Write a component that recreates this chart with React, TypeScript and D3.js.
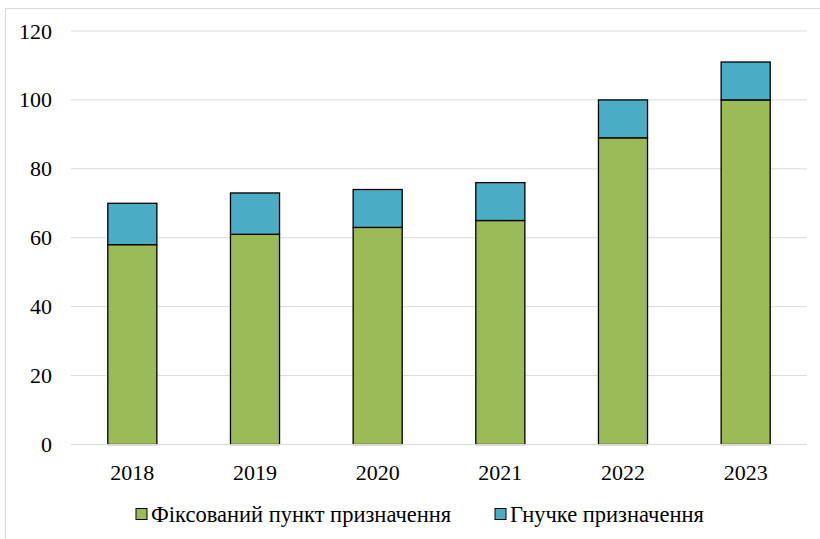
import React from "react";
import * as d3 from "d3";

const categories = ["2018", "2019", "2020", "2021", "2022", "2023"];
const fixedValues = [58, 61, 63, 65, 89, 100];
const flexibleValues = [12, 12, 11, 11, 11, 11];
const seriesNames = ["Фіксований пункт призначення", "Гнучке призначення"];
const seriesColors = ["#9BBB59", "#4BACC6"];
const yTicks = [0, 20, 40, 60, 80, 100, 120];

export default function App() {
  const W = 820, H = 539;
  const x0 = 71, x1 = 807, yTop = 31, yBot = 444.5;
  const x = d3.scaleBand<string>().domain(categories).range([x0, x1]).paddingInner(0.6).paddingOuter(0.3);
  const y = d3.scaleLinear().domain([0, 120]).range([yBot, yTop]);
  const font = "Liberation Serif";
  const rows = categories.map((c, i) => ({ c, fixed: fixedValues[i], flex: flexibleValues[i] }));
  const stack = d3.stack<any>().keys(["fixed", "flex"])(rows);

  return (
    <svg width={W} height={H} style={{ position: "absolute", left: 0, top: 0 }}>
      <rect x={0} y={0} width={W} height={H} fill="#fff" />
      <rect x={5.5} y={8.5} width={W + 10} height={H + 10} fill="none" stroke="#d9d9d9" strokeWidth={1} />
      {yTicks.map((t) => (
        <g key={t}>
          {t > 0 && <line x1={x0} x2={x1} y1={y(t)} y2={y(t)} stroke="#d9d9d9" strokeWidth={1} />}
          <text x={52} y={y(t) + 7.5} textAnchor="end" fontFamily={font} fontSize={22} fill="#000">{t}</text>
        </g>
      ))}
      {stack.map((s, si) => (
        <g key={si}>
          {s.map((d, i) => (
            <rect key={i} x={x(categories[i])} width={x.bandwidth()} y={y(d[1])} height={y(d[0]) - y(d[1])}
              fill={seriesColors[si]} stroke="#000" strokeWidth={1.3} />
          ))}
        </g>
      ))}
      <line x1={x0} x2={x1} y1={yBot} y2={yBot} stroke="#d9d9d9" strokeWidth={1} />
      {categories.map((c) => (
        <text key={c} x={(x(c) as number) + x.bandwidth() / 2} y={479.5} textAnchor="middle" fontFamily={font} fontSize={22} fill="#000">{c}</text>
      ))}
      <g>
        <rect x={136} y={508.5} width={11} height={11} fill={seriesColors[0]} stroke="#000" strokeWidth={1} />
        <text x={151} y={521.5} fontFamily={font} fontSize={22.5} fill="#000">{seriesNames[0]}</text>
        <rect x={495} y={508.5} width={11} height={11} fill={seriesColors[1]} stroke="#000" strokeWidth={1} />
        <text x={510} y={521.5} fontFamily={font} fontSize={22.5} fill="#000">{seriesNames[1]}</text>
      </g>
    </svg>
  );
}
